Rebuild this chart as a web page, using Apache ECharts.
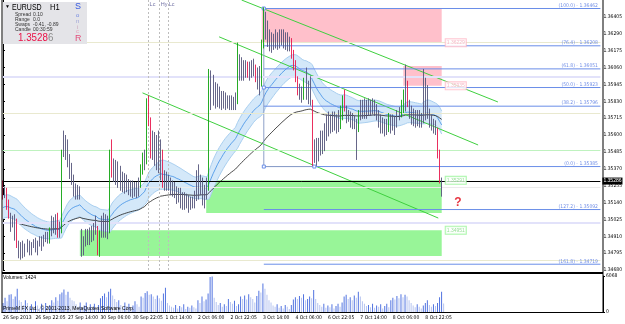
<!DOCTYPE html>
<html>
<head>
<meta charset="utf-8">
<script src="https://cdn.jsdelivr.net/npm/echarts@6/dist/echarts.min.js"></script>
<style>
html, body { margin: 0; padding: 0; background: #fff; }
#chart { width: 625px; height: 324px; }
</style>
</head>
<body>
<div id="chart"></div>
<script>
// EURUSD H1 — bars, [open, close, low, high]
var candles = [
[1.3527,1.3519,1.3516,1.3529],[1.3519,1.3522,1.3517,1.3525],[1.3522,1.3512,1.3509,1.3524],[1.3514,1.3505,1.3503,1.3516],
[1.3505,1.3499,1.3494,1.3507],[1.3499,1.3504,1.3497,1.3505],[1.3504,1.3499,1.3488,1.3506],[1.3502,1.3485,1.3483,1.3503],
[1.3485,1.3482,1.3476,1.3488],[1.3482,1.3485,1.3475,1.3487],[1.3485,1.3480,1.3476,1.3488],[1.3480,1.3483,1.3477,1.3486],
[1.3483,1.3485,1.3480,1.3489],[1.3485,1.3482,1.3478,1.3488],[1.3482,1.3484,1.3478,1.3487],[1.3484,1.3486,1.3483,1.3489],
[1.3486,1.3482,1.3480,1.3490],[1.3482,1.3487,1.3478,1.3488],[1.3487,1.3489,1.3484,1.3491],[1.3489,1.3486,1.3481,1.3491],
[1.3486,1.3489,1.3484,1.3492],[1.3489,1.3491,1.3487,1.3494],[1.3491,1.3489,1.3486,1.3494],[1.3488,1.3496,1.3486,1.3497],
[1.3496,1.3500,1.3491,1.3505],[1.3500,1.3497,1.3493,1.3504],[1.3497,1.3502,1.3492,1.3506],[1.3505,1.3493,1.3490,1.3507],
[1.3493,1.3498,1.3490,1.3501],[1.3496,1.3548,1.3493,1.3550],[1.3548,1.3553,1.3545,1.3563],[1.3553,1.3550,1.3543,1.3560],
[1.3550,1.3544,1.3538,1.3557],[1.3544,1.3538,1.3530,1.3547],[1.3538,1.3531,1.3526,1.3541],[1.3531,1.3524,1.3518,1.3533],
[1.3524,1.3522,1.3516,1.3527],[1.3522,1.3519,1.3516,1.3526],[1.3519,1.3523,1.3516,1.3525],[1.3490,1.3484,1.3477,1.3496],
[1.3484,1.3488,1.3478,1.3491],[1.3488,1.3491,1.3484,1.3496],[1.3491,1.3488,1.3485,1.3496],[1.3488,1.3493,1.3485,1.3497],
[1.3493,1.3491,1.3487,1.3498],[1.3491,1.3496,1.3488,1.3500],[1.3496,1.3500,1.3492,1.3505],[1.3496,1.3481,1.3478,1.3498],
[1.3481,1.3493,1.3477,1.3495],[1.3493,1.3500,1.3490,1.3505],[1.3500,1.3497,1.3490,1.3507],[1.3497,1.3501,1.3490,1.3506],
[1.3501,1.3495,1.3489,1.3505],[1.3495,1.3546,1.3493,1.3550],[1.3546,1.3533,1.3531,1.3557],[1.3533,1.3540,1.3528,1.3544],
[1.3540,1.3534,1.3526,1.3543],[1.3534,1.3536,1.3524,1.3542],[1.3536,1.3530,1.3522,1.3539],[1.3530,1.3531,1.3521,1.3535],
[1.3531,1.3526,1.3520,1.3534],[1.3526,1.3528,1.3521,1.3533],[1.3528,1.3524,1.3519,1.3530],[1.3524,1.3527,1.3518,1.3529],
[1.3527,1.3522,1.3517,1.3529],[1.3522,1.3525,1.3518,1.3528],[1.3525,1.3521,1.3517,1.3528],[1.3521,1.3526,1.3518,1.3531],
[1.3526,1.3537,1.3524,1.3540],[1.3537,1.3545,1.3533,1.3548],[1.3545,1.3541,1.3536,1.3550],[1.3541,1.3580,1.3540,1.3585],
[1.3580,1.3569,1.3566,1.3587],[1.3569,1.3550,1.3544,1.3572],[1.3550,1.3557,1.3543,1.3563],[1.3557,1.3551,1.3539,1.3562],
[1.3551,1.3548,1.3536,1.3560],[1.3548,1.3543,1.3534,1.3563],[1.3543,1.3546,1.3529,1.3557],[1.3546,1.3526,1.3524,1.3550],
[1.3526,1.3531,1.3522,1.3536],[1.3531,1.3527,1.3522,1.3535],[1.3527,1.3529,1.3522,1.3533],[1.3529,1.3524,1.3519,1.3531],
[1.3524,1.3527,1.3518,1.3529],[1.3527,1.3521,1.3517,1.3528],[1.3521,1.3518,1.3513,1.3525],[1.3518,1.3522,1.3514,1.3524],
[1.3522,1.3516,1.3510,1.3524],[1.3516,1.3518,1.3509,1.3521],[1.3518,1.3514,1.3509,1.3521],[1.3514,1.3517,1.3510,1.3520],
[1.3517,1.3513,1.3507,1.3519],[1.3513,1.3516,1.3509,1.3518],[1.3516,1.3513,1.3510,1.3518],[1.3513,1.3518,1.3510,1.3522],
[1.3518,1.3524,1.3515,1.3536],[1.3524,1.3521,1.3516,1.3540],[1.3521,1.3527,1.3519,1.3533],[1.3527,1.3521,1.3512,1.3531],
[1.3521,1.3520,1.3510,1.3526],[1.3520,1.3525,1.3516,1.3531],[1.3525,1.3580,1.3522,1.3605],[1.3580,1.3586,1.3577,1.3604],
[1.3586,1.3587,1.3580,1.3601],[1.3587,1.3584,1.3578,1.3596],[1.3584,1.3589,1.3579,1.3595],[1.3589,1.3585,1.3578,1.3593],
[1.3585,1.3581,1.3577,1.3590],[1.3581,1.3586,1.3578,1.3590],[1.3586,1.3582,1.3577,1.3589],[1.3582,1.3585,1.3578,1.3587],
[1.3585,1.3581,1.3577,1.3587],[1.3581,1.3584,1.3577,1.3587],[1.3584,1.3580,1.3577,1.3586],[1.3580,1.3584,1.3577,1.3589],
[1.3584,1.3603,1.3581,1.3623],[1.3603,1.3607,1.3597,1.3615],[1.3607,1.3602,1.3597,1.3613],[1.3602,1.3606,1.3597,1.3611],
[1.3606,1.3603,1.3599,1.3611],[1.3609,1.3601,1.3599,1.3610],[1.3601,1.3606,1.3597,1.3610],[1.3606,1.3603,1.3599,1.3611],
[1.3603,1.3607,1.3600,1.3612],[1.3605,1.3597,1.3596,1.3608],[1.3597,1.3602,1.3591,1.3606],[1.3602,1.3596,1.3587,1.3607],
[1.3596,1.3621,1.3593,1.3625],[1.3621,1.3641,1.3619,1.3647],[1.3641,1.3635,1.3625,1.3644],[1.3635,1.3628,1.3620,1.3638],
[1.3628,1.3624,1.3617,1.3632],[1.3624,1.3621,1.3616,1.3630],[1.3621,1.3625,1.3618,1.3629],[1.3625,1.3627,1.3619,1.3632],
[1.3627,1.3622,1.3618,1.3630],[1.3622,1.3626,1.3619,1.3632],[1.3626,1.3629,1.3621,1.3632],[1.3629,1.3623,1.3619,1.3632],
[1.3623,1.3627,1.3618,1.3630],[1.3627,1.3622,1.3617,1.3630],[1.3622,1.3625,1.3617,1.3627],[1.3625,1.3614,1.3612,1.3626],
[1.3614,1.3606,1.3604,1.3618],[1.3606,1.3598,1.3596,1.3611],[1.3598,1.3590,1.3587,1.3600],[1.3590,1.3587,1.3584,1.3595],
[1.3587,1.3591,1.3582,1.3593],[1.3587,1.3596,1.3584,1.3599],[1.3596,1.3592,1.3584,1.3606],[1.3592,1.3588,1.3581,1.3597],
[1.3588,1.3584,1.3580,1.3600],[1.3580,1.3543,1.3539,1.3584],[1.3543,1.3550,1.3541,1.3557],[1.3550,1.3545,1.3539,1.3558],
[1.3545,1.3551,1.3542,1.3558],[1.3551,1.3556,1.3546,1.3563],[1.3556,1.3552,1.3547,1.3563],[1.3552,1.3559,1.3549,1.3568],
[1.3559,1.3565,1.3556,1.3574],[1.3565,1.3569,1.3559,1.3576],[1.3569,1.3565,1.3561,1.3574],[1.3565,1.3571,1.3562,1.3576],
[1.3571,1.3568,1.3563,1.3576],[1.3568,1.3570,1.3561,1.3574],[1.3570,1.3566,1.3562,1.3577],[1.3566,1.3576,1.3564,1.3580],
[1.3572,1.3586,1.3570,1.3587],[1.3586,1.3578,1.3576,1.3591],[1.3578,1.3573,1.3568,1.3580],[1.3573,1.3575,1.3569,1.3577],
[1.3575,1.3570,1.3565,1.3576],[1.3570,1.3572,1.3564,1.3575],[1.3571,1.3566,1.3564,1.3573],[1.3566,1.3568,1.3543,1.3571],
[1.3564,1.3572,1.3562,1.3577],[1.3572,1.3578,1.3570,1.3584],[1.3578,1.3574,1.3571,1.3584],[1.3574,1.3579,1.3571,1.3585],
[1.3579,1.3575,1.3571,1.3584],[1.3575,1.3579,1.3573,1.3585],[1.3579,1.3576,1.3573,1.3584],[1.3576,1.3580,1.3574,1.3585],
[1.3580,1.3577,1.3573,1.3584],[1.3577,1.3574,1.3570,1.3581],[1.3574,1.3570,1.3565,1.3577],[1.3570,1.3566,1.3561,1.3574],
[1.3566,1.3568,1.3561,1.3572],[1.3568,1.3564,1.3559,1.3571],[1.3564,1.3567,1.3560,1.3571],[1.3563,1.3571,1.3562,1.3575],
[1.3571,1.3567,1.3561,1.3574],[1.3567,1.3570,1.3563,1.3574],[1.3570,1.3566,1.3560,1.3573],[1.3566,1.3572,1.3565,1.3577],
[1.3572,1.3575,1.3570,1.3579],[1.3574,1.3582,1.3572,1.3584],[1.3579,1.3587,1.3575,1.3591],[1.3587,1.3593,1.3576,1.3608],
[1.3594,1.3580,1.3579,1.3597],[1.3580,1.3575,1.3571,1.3584],[1.3575,1.3571,1.3567,1.3580],[1.3571,1.3574,1.3566,1.3578],
[1.3574,1.3570,1.3565,1.3577],[1.3570,1.3572,1.3566,1.3577],[1.3572,1.3568,1.3565,1.3577],[1.3568,1.3571,1.3565,1.3575],
[1.3571,1.3577,1.3568,1.3605],[1.3577,1.3583,1.3570,1.3599],[1.3583,1.3577,1.3571,1.3594],[1.3577,1.3571,1.3565,1.3578],
[1.3571,1.3568,1.3563,1.3574],[1.3568,1.3566,1.3561,1.3571],[1.3566,1.3563,1.3560,1.3570],[1.3563,1.3546,1.3544,1.3565],
[1.3546,1.3528,1.3527,1.3550],[1.3528,1.35286,1.3518,1.3531]
];

var volumes = [
1500,2400,1800,2900,3000,2200,2600,3900,2000,
1700,1200,2000,1500,900,1300,700,1800,1100,600,1400,800,1500,1000,
1200,2000,1600,2500,1900,3000,3300,3800,2900,3400,2400,2000,
1800,1300,900,1600,700,1100,1600,800,1300,900,1400,600,1200,
2300,2700,3100,2500,3400,3900,2800,2200,1700,2000,
1200,800,1600,1000,1400,700,1100,1800,1300,900,2600,2400,
3200,3500,2900,3000,2600,2200,2800,2300,1900,3100,4100,
1500,1100,900,700,1200,600,1000,800,1300,500,900,700,1100,800,600,
2000,1500,2600,1800,2100,3100,5900,6000,
2400,1700,1200,1500,900,1300,1000,2200,1700,
1400,1900,1000,1300,2600,2200,2800,
2100,3000,2500,2200,1600,2700,3600,
3300,4800,3900,2900,2000,
1600,1100,900,1300,700,1000,600,1200,900,500,1200,
2100,2500,2200,2700,2400,3000,2000,2200,2600,2300,3700,
2200,1500,1200,900,1400,700,1100,800,1300,600,1000,1400,900,1600,2600,
2900,2200,2500,2000,2800,2400,3400,
2600,1800,1400,1000,1200,800,1400,700,1100,900,1300,600,1000,1400,800,
2000,2400,2100,2700,2300,3000,2500,2900,2600,2000,1500,
1100,800,1300,900,600,1100,1500,2000,1200,900,1300,
1000,1500,2500,3400,1424
];

var timeLabels = ['26 Sep 2013','26 Sep 22:05','27 Sep 14:00','30 Sep 06:00','30 Sep 22:05','1 Oct 14:00',
  '2 Oct 06:00','2 Oct 22:05','3 Oct 14:00','4 Oct 06:00','6 Oct 22:05','7 Oct 14:00','8 Oct 06:00','8 Oct 22:05'];
var barsPerLabel = 16;
var totalSlots = 296;          // bars + empty shift area on the right

var priceMin = 1.34680, priceMax = 1.36520, priceStep = 0.00115;
var volumeMax = 6068;
var bid = 1.35286;

var seedHigh = 1.3518, seedLow = 1.3502, seedClose = 1.3510, seedTrend = 1.3499;

// fibonacci retracement
var fibHigh = 1.36462, fibLow = 1.35385, fibHighBar = 129, fibLowBar = 154;
var fibRatios = [1, 0.764, 0.618, 0.5, 0.382, 0, -0.272, -0.618];

// trend lines [[bar, price], [bar, price]]
var trendLines = [
  [[118, 1.3652], [244.8, 1.35825]],
  [[106.9, 1.36269], [235, 1.35532]],
  [[69, 1.35887], [215.3, 1.35034]]
];

// rectangles [fromBar, toBar, top, bottom]
var pinkZones = [[128, 217, 1.36462, 1.36229], [198, 217, 1.36071, 1.35935]];
var greenZones = [[100.5, 217, 1.35291, 1.35068], [38, 217, 1.34951, 1.34775], [-1, 217, 1.34665, 1.3460]];

var beigeLevels = [1.36235, 1.35750, 1.34748];
var lavenderLevels = [1.35996, 1.35000];
var greenLevels = [1.35498];
var greyLevels = [1.35246];

var markers = [[72, 'Lc'], [77.5, 'Hy'], [81.5, 'Lc']];
var questionAt = [225, 1.35137];

// ---------------------------------------------------------------
var FONT = 'Liberation Sans';
var NARROW = '"Liberation Sans Narrow", "DejaVu Sans Condensed", "Liberation Sans"';
var chart = echarts.init(document.getElementById('chart'));

var cats = [];
for (var s = 0; s < totalSlots; s++) {
  var k = s / barsPerLabel;
  cats.push(s % barsPerLabel === 0 && k < timeLabels.length ? timeLabels[k] : '');
}

function ema(values, period, seed) {
  var a = 2 / (period + 1), prev = seed, out = [];
  for (var i = 0; i < values.length; i++) {
    prev = prev + a * (values[i] - prev);
    out.push(prev);
  }
  return out;
}
var closes = candles.map(function (c) { return c[1]; });
var emaHigh = ema(candles.map(function (c) { return c[3]; }), 34, seedHigh);
var emaLow = ema(candles.map(function (c) { return c[2]; }), 34, seedLow);
var emaClose = ema(closes, 34, seedClose);
var emaTrend = ema(closes, 89, seedTrend);
var bandWidth = emaHigh.map(function (h, i) { return h - emaLow[i]; });

var GREEN = '#0fa30f', RED = '#e8174d';
var candleData = candles.map(function (c) {
  var body = c[1] - c[0], col = null;
  if (body >= 0.00075) col = GREEN;
  else if (body <= -0.00075) col = RED;
  if (!col) return c;
  return { value: c, itemStyle: { color: col, color0: col, borderColor: col, borderColor0: col } };
});

var fibColor = '#6a8ee8';
var series = [];

// rectangles
series.push({
  type: 'line', xAxisIndex: 1, yAxisIndex: 0, data: [], z: 1, silent: true,
  markArea: {
    silent: true,
    data: pinkZones.map(function (r) {
      return [{ coord: [r[0], r[2]], itemStyle: { color: '#ffc0cb' } }, { coord: [r[1], r[3]] }];
    }).concat(greenZones.map(function (r) {
      return [{ coord: [r[0], r[2]], itemStyle: { color: '#98f598' } }, { coord: [r[1], r[3]] }];
    }))
  }
});

// light horizontal levels
function levelItems(list, color, width) {
  return list.map(function (v) { return { yAxis: v, lineStyle: { color: color, width: width, type: 'solid' } }; });
}
series.push({
  type: 'line', xAxisIndex: 0, yAxisIndex: 0, data: [], z: 1, silent: true,
  markLine: {
    silent: true, symbol: 'none', precision: 5, label: { show: false },
    data: levelItems(beigeLevels, '#e9e9cf', 1)
      .concat(levelItems(lavenderLevels, '#e2e2fa', 2))
      .concat(levelItems(greenLevels, '#bff2bf', 1))
      .concat(levelItems(greyLevels, '#ebebeb', 1))
  }
});

// bid line with its price tag on the axis
series.push({
  type: 'line', xAxisIndex: 0, yAxisIndex: 0, data: [], z: 6, silent: true,
  markLine: {
    silent: true, symbol: 'none', precision: 5,
    data: [{ yAxis: bid }],
    lineStyle: { color: '#000', width: 1, type: 'solid' },
    label: {
      position: 'end', distance: 2, formatter: bid.toFixed(5),
      backgroundColor: '#000', color: '#fff', fontFamily: FONT, fontSize: 5, padding: [1, 1]
    }
  }
});

// dragon band (EMA34 high/low/close) and trend EMA89
series.push({
  type: 'line', xAxisIndex: 0, yAxisIndex: 0, data: emaLow, stack: 'band', symbol: 'none',
  lineStyle: { color: '#a9cff0', width: 1 }, z: 2, silent: true
});
series.push({
  type: 'line', xAxisIndex: 0, yAxisIndex: 0, data: bandWidth, stack: 'band', symbol: 'none',
  lineStyle: { color: '#a9cff0', width: 1 }, areaStyle: { color: '#d4e8f9', opacity: 1 }, z: 2, silent: true
});
series.push({
  type: 'line', xAxisIndex: 0, yAxisIndex: 0, data: emaClose, symbol: 'none',
  lineStyle: { color: '#3f8fe6', width: 0.8 }, z: 3, silent: true
});
series.push({
  type: 'line', xAxisIndex: 0, yAxisIndex: 0, data: emaTrend, symbol: 'none',
  lineStyle: { color: '#1e1e1e', width: 0.8 }, z: 3, silent: true
});

// trend lines
trendLines.forEach(function (t) {
  series.push({
    type: 'line', xAxisIndex: 1, yAxisIndex: 0, data: t, symbol: 'none',
    lineStyle: { color: '#3fd03f', width: 1 }, z: 3, silent: true
  });
});

// fibonacci levels
var fibRange = fibHigh - fibLow;
var fibLabelData = [];
fibRatios.forEach(function (r) {
  var lvl = fibLow + r * fibRange;
  series.push({
    type: 'line', xAxisIndex: 1, yAxisIndex: 0, data: [[fibHighBar, lvl], [totalSlots - 0.5, lvl]],
    symbol: 'none', lineStyle: { color: fibColor, width: 1 }, z: 3, silent: true
  });
  var pct = r >= 0 ? r * 100 : (1 - r) * 100;
  fibLabelData.push({ value: [totalSlots - 1.7, lvl], name: '(' + pct.toFixed(1) + ') - ' + lvl.toFixed(5) });
});
series.push({
  type: 'line', xAxisIndex: 1, yAxisIndex: 0,
  data: [[fibHighBar, fibHigh], [fibHighBar, (fibHigh + fibLow) / 2], [fibHighBar, fibLow], [fibLowBar, fibLow]],
  symbol: 'rect', symbolSize: 3, showAllSymbol: true,
  itemStyle: { color: '#fff', borderColor: fibColor, borderWidth: 1 },
  lineStyle: { color: '#8ea0c8', width: 1 }, z: 4, silent: true
});
series.push({
  type: 'scatter', xAxisIndex: 1, yAxisIndex: 0, data: fibLabelData, symbolSize: 0, z: 6, silent: true,
  label: {
    show: true, position: 'left', distance: 0, offset: [0, -3],
    formatter: function (p) { return p.name; },
    fontFamily: NARROW, fontSize: 5, color: '#4a6fe0'
  }
});

// candles
series.push({
  type: 'candlestick', xAxisIndex: 0, yAxisIndex: 0, data: candleData, barWidth: 1, z: 5, silent: true,
  itemStyle: { color: '#a6a6b2', color0: '#a6a6b2', borderColor: '#55557a', borderColor0: '#55557a', borderWidth: 0.9 }
});

// rectangle price tags
var zoneTags = pinkZones.map(function (r) {
  return { value: [r[1] + 1, r[3]], name: r[3].toFixed(5), kind: 'p' };
}).concat(greenZones.map(function (r) {
  return { value: [r[1] + 1, r[2]], name: r[2].toFixed(5), kind: 'g' };
}));
series.push({
  type: 'scatter', xAxisIndex: 1, yAxisIndex: 0, symbolSize: 0, z: 7, silent: true,
  data: zoneTags.map(function (t) {
    var pink = t.kind === 'p';
    return {
      value: t.value, name: t.name,
      label: {
        show: true, position: 'right', distance: 2, formatter: t.name,
        fontFamily: FONT, fontSize: 5, padding: [1, 1],
        color: pink ? '#f2a6b6' : '#7ad67a', borderColor: pink ? '#ffb8c6' : '#98f598', borderWidth: 1,
        backgroundColor: '#fff'
      }
    };
  })
});

// vertical session markers
series.push({
  type: 'scatter', xAxisIndex: 1, yAxisIndex: 0, symbolSize: 0, z: 6, silent: true,
  data: markers.map(function (m) { return { value: [m[0], 1.36488], name: m[1] }; }),
  label: { show: true, position: 'right', distance: 1, formatter: function (p) { return p.name; },
    fontFamily: FONT, fontSize: 5.5, color: '#505090' },
  markLine: {
    silent: true, symbol: 'none', precision: 2, label: { show: false },
    lineStyle: { color: '#bdbdbd', width: 1, type: [2, 2] },
    data: markers.map(function (m) { return { xAxis: m[0] }; })
  }
});

// question mark
series.push({
  type: 'scatter', xAxisIndex: 1, yAxisIndex: 0, symbolSize: 0, z: 7, silent: true,
  data: [{ value: questionAt }],
  label: { show: true, position: 'inside', formatter: '?', fontFamily: FONT, fontSize: 12, fontWeight: 'bold', color: '#e00010' }
});

// volumes
series.push({
  type: 'bar', xAxisIndex: 2, yAxisIndex: 1, data: volumes, barWidth: 1, silent: true,
  itemStyle: {
    color: function (p) {
      var i = p.dataIndex;
      return (i === 0 || volumes[i] >= volumes[i - 1]) ? '#5274e0' : '#b6c4f0';
    }
  }
});

var labelEvery = function (idx, val) { return val !== ''; };

var small = { fontFamily: FONT, fontSize: 5, fill: '#333' };
function txt(x, y, text, extra) {
  var st = Object.assign({ text: text }, small, extra || {});
  return { type: 'text', left: x, top: y, z: 100, style: st };
}

var option = {
  animation: false,
  backgroundColor: '#fff',
  grid: [
    { left: 2, right: 22, top: 0, height: 270 },
    { left: 2, right: 22, top: 276, height: 36 }
  ],
  xAxis: [
    { type: 'category', gridIndex: 0, data: cats, boundaryGap: true, axisLine: { show: false },
      axisTick: { show: false }, axisLabel: { show: false }, splitLine: { show: false } },
    { type: 'value', gridIndex: 0, min: -0.5, max: totalSlots - 0.5, show: false },
    { type: 'category', gridIndex: 1, data: cats, boundaryGap: true,
      axisLine: { lineStyle: { color: '#000', width: 1 } },
      axisTick: { alignWithLabel: true, interval: labelEvery, length: 3, lineStyle: { color: '#000' } },
      axisLabel: { interval: labelEvery, align: 'left', margin: 3, fontFamily: NARROW, fontSize: 5, color: '#000' },
      splitLine: { show: false } }
  ],
  yAxis: [
    { type: 'value', gridIndex: 0, position: 'right', min: priceMin, max: priceMax, interval: priceStep,
      axisLine: { show: true, lineStyle: { color: '#000' } },
      axisTick: { show: true, length: 2, lineStyle: { color: '#000' } },
      axisLabel: { showMaxLabel: false, margin: 3, fontFamily: NARROW, fontSize: 5, color: '#000',
        formatter: function (v) { return v.toFixed(5); } },
      splitLine: { show: false } },
    { type: 'value', gridIndex: 1, position: 'right', min: 0, max: volumeMax, interval: volumeMax,
      axisLine: { show: true, lineStyle: { color: '#000' } },
      axisTick: { show: true, length: 2, lineStyle: { color: '#000' } },
      axisLabel: { margin: 3, fontFamily: NARROW, fontSize: 5, color: '#000',
        formatter: function (v) { return String(Math.round(v)); } },
      splitLine: { show: false } }
  ],
  series: series,
  graphic: [
    // pane frame
    { type: 'line', z: 100, shape: { x1: 2, y1: 0, x2: 2, y2: 313 }, style: { stroke: '#000', lineWidth: 1 } },
    { type: 'line', z: 100, shape: { x1: 2, y1: 273, x2: 603, y2: 273 }, style: { stroke: '#000', lineWidth: 2 } },
    { type: 'line', z: 100, shape: { x1: 603, y1: 0, x2: 603, y2: 313 }, style: { stroke: '#000', lineWidth: 1 } },
    // symbol info panel
    { type: 'rect', z: 100, shape: { x: 3, y: 2, width: 84, height: 42 }, style: { fill: '#e4e4e8' } },
    txt(5, 4, '\u25BC', { fontSize: 5, fill: '#000' }),
    { type: 'text', z: 100, x: 12, y: 2, scaleX: 0.74, style: { text: 'EURUSD', fontFamily: FONT, fontSize: 9.5, fill: '#000' } },
    { type: 'text', z: 100, x: 50, y: 2, scaleX: 0.8, style: { text: 'H1', fontFamily: FONT, fontSize: 9.5, fill: '#000' } },
    txt(15, 12, 'Spread'), txt(33, 12, '0.10'),
    txt(15, 17, 'Range'), txt(33, 17, '0.0'),
    txt(15, 22, 'Swaps'), txt(33, 22, '-0.41, -0.89'),
    txt(15, 27, 'Candle'), txt(33, 27, '00:30:59'),
    { type: 'text', z: 100, x: 18, y: 32, scaleX: 0.85, style: {
      text: '{r|1.3528}{g|6}', fontFamily: FONT,
      rich: { r: { fontSize: 11.5, fill: '#ea1045', fontFamily: FONT }, g: { fontSize: 11.5, fill: '#8c8c8c', fontFamily: FONT } } } },
    txt(75, 2, 'S', { fontSize: 9, fill: '#3558e0' }),
    txt(76, 12, 'o', { fontSize: 6, fill: '#6f86e0' }),
    txt(76, 18, 'n', { fontSize: 6, fill: '#9ea4d6' }),
    txt(77, 24, 'i', { fontSize: 6, fill: '#c9a3ba' }),
    txt(76, 28, 'c', { fontSize: 6, fill: '#e8a4bc' }),
    txt(75, 34, 'R', { fontSize: 9, fill: '#e2507c' }),
    // volume pane captions
    txt(3, 275, 'Volumes: ' + volumes[volumes.length - 1], { fill: '#000' }),
    txt(3, 306, 'PrimeM FX Ltd., \u00A9 2001-2013, MetaQuotes Software Corp.', { fill: '#000' })
  ]
};
chart.setOption(option);
</script>
</body>
</html>
